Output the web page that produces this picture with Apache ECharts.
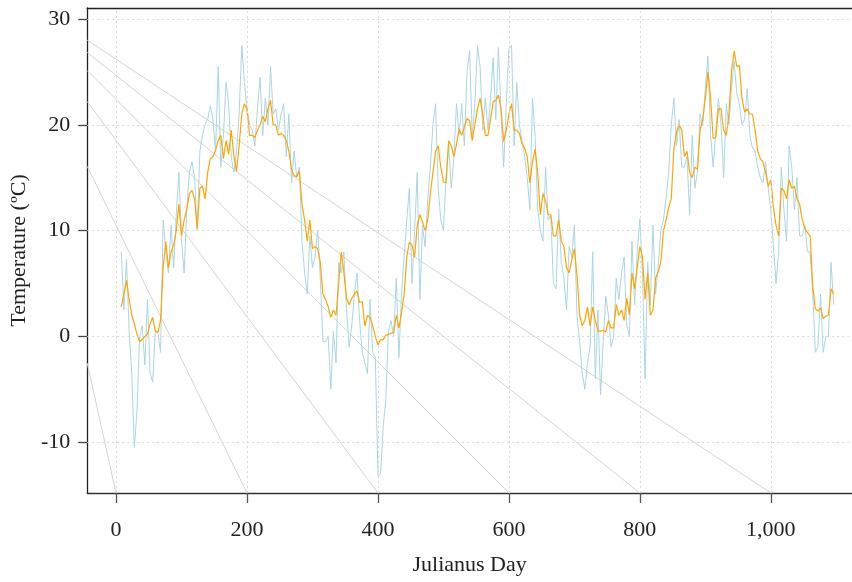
<!DOCTYPE html>
<html>
<head>
<meta charset="utf-8">
<script src="https://cdn.jsdelivr.net/npm/echarts@6/dist/echarts.min.js"></script>
<style>
  html, body { margin: 0; padding: 0; background: #fff; }
  #chart { width: 852px; height: 582px; }
</style>
</head>
<body>
<div id="chart"></div>
<script>
// daily temperature, read every 4 days starting at day 8
var firstDay = 8;
var dayStep = 4;

var dailyTemp = [
  8.0, 2.5, 7.3, 0.5, -3.5, -10.5, -7, 0, 1.0, -2.7, 3.5, -3.5, -4.3, 0.5, 0.3, -1.5,
  11, 8, 6, 10.5, 6.5, 11.5, 15.5, 9, 6, 12, 15.5, 16.5, 15, 10, 17.5, 19,
  20.0, 20.5, 21.8, 20.5, 17.5, 25.5, 16, 19, 24, 22, 17, 15.5, 17.5, 21, 27.5, 24, 21.5,
  20, 19.5, 18, 21.5, 24.5, 19, 22.5, 20, 25.5, 21, 21.5, 19.5, 21, 22, 17, 21, 14.5,
  17.5, 15, 16, 9, 6, 4, 9.5, 6.5, 7.5, 10, 5.5, -0.5, -0.5, 0, -5, 0.5, -2.5,
  7, 6, 8, 2.5, -1, 1, 4, 6, 1.5, -1.5, -2.5, -3.5, 3.5, -1.5, -2, -13.2, -13,
  -8.5, -6, 0.5, 1.5, 0, 5.5, -2, 4, 7.5, 11, 14, 5, 10, 15.5, 3.5, 10.5, 8.5,
  13, 16, 20, 22, 14, 11, 10, 15, 18, 14, 17, 22, 19, 22, 18, 25, 27,
  19, 22, 27.5, 25.5, 19.5, 22.5, 19.5, 22.5, 26.3, 20.5, 27.3, 21, 16, 22, 27.2, 27.5, 18, 24,
  20, 18.5, 17, 15, 12, 22.5, 19, 12, 10, 9, 16, 11, 11.5, 5, 4.5, 12, 7,
  5.5, 2.5, 8.5, 7.5, 10.5, 2, -0.5, -3.5, -5, -2.5, -1, 8, -4, 2.5, -5.5, -0.5, 3.8,
  2, -1, 0, 5.5, 3.5, 6, 7.5, 1, 0, 9, 3, 8, 11.1, 6, -4, 7, 3,
  10.5, 4, 6.5, 10, 11, 13, 15.5, 20, 22.5, 18, 20.5, 16, 16, 17, 11.5, 19, 14,
  15.5, 21, 20, 23.5, 26.5, 19, 16, 19.5, 22.5, 20, 15, 22, 20, 23.5, 26, 23, 22,
  20, 20.5, 23.4, 19, 17.8, 17.5, 16, 15, 14.5, 16.5, 14, 12, 8.5, 5, 8, 16, 12, 9,
  18, 16, 12, 15, 9.5, 9.5, 10.5, 8, 8, 4.2, -1.5, -1, 4, -1.5, 0, 0, 7, 3
];

var smoothTemp = [
  2.8, 4.0, 5.3, 3.5, 2.0, 1.2, 0.2, -0.5, -0.3, 0.0, 0.2, 1.2, 1.8, 0.5, 0.4, 1.5,
  6.5, 9.0, 6.5, 8.0, 8.6, 10.0, 12.5, 9.5, 11.0, 12.0, 13.5, 13.8, 13.0, 10.2, 14.0, 14.2,
  13.0, 15.5, 16.8, 17.0, 17.6, 18.5, 19.0, 16.8, 18.5, 17.2, 19.5, 17.0, 15.6, 18.0, 21.0, 22.0, 21.5,
  19.0, 19.0, 18.8, 19.5, 20.0, 20.8, 20.3, 21.5, 22.3, 20.0, 20.0, 19.0, 19.2, 19.0, 18.5, 17.5, 15.8,
  15.2, 15.1, 15.6, 12.5, 11.0, 9.0, 11.0, 8.3, 8.5, 8.3, 7.0, 4.0, 3.5, 2.8, 1.8, 2.5, 2.0,
  5.0, 8.0, 6.0, 3.6, 3.0, 3.6, 4.0, 4.3, 3.2, 3.3, 1.0, 2.0, 1.8, 1.0, 0.0, -0.8, -0.3,
  -0.3, 0.1, 0.2, 0.3, 0.4, 2.0, 0.8, 2.2, 4.0, 7.5, 8.9, 8.6, 7.5, 10.5, 11.5, 10.8, 10.0,
  11.0, 13.5, 15.5, 17.5, 18.0, 16.0, 14.6, 14.5, 18.5, 18.0, 17.0, 18.2, 19.6, 19.0, 19.8, 20.6, 20.4,
  18.5, 20.0, 21.5, 22.5, 21.0, 19.0, 19.0, 20.5, 22.2, 22.3, 22.8, 21.5, 18.4, 19.5, 21.0, 22.0, 19.5, 19.5,
  19.2, 18.2, 17.8, 17.0, 14.5, 16.5, 17.7, 15.5, 11.5, 13.5, 12.8, 11.5, 11.5, 9.5, 9.5, 11.0, 9.0,
  8.5, 6.5, 6.0, 7.2, 8.3, 5.8, 2.0, 1.0, 1.5, 2.8, 1.0, 2.8, 1.5, 0.5, 0.5, 0.6, 0.4,
  1.5, 0.8, 0.8, 3.0, 2.0, 2.5, 1.5, 3.6, 2.0, 6.0, 4.5, 6.5, 8.5, 7.5, 3.5, 6.0, 2.0,
  2.5, 5.5, 6.1, 7.0, 10.0, 11.0, 12.2, 13.0, 17.8, 19.3, 20.0, 19.5, 17.0, 17.5, 15.5, 15.0, 16.0,
  15.8, 19.5, 20.5, 22.5, 25.0, 22.5, 18.7, 18.8, 21.5, 21.5, 19.5, 19.0, 21.0, 25.0, 27.0, 25.5, 25.6,
  22.5, 21.2, 21.5, 21.0, 21.0, 19.5, 17.5, 16.8, 16.5, 15.5, 14.2, 14.8, 12.2, 10.5, 9.5, 14.0, 13.8, 13.0,
  14.8, 14.0, 14.2, 13.0, 12.5, 11.0, 10.2, 9.8, 9.5, 4.8, 2.6, 2.4, 2.7, 1.7, 1.9, 2.0, 4.5, 4.0
];

var xTicks = [0, 200, 400, 600, 800, 1000];
var yTicks = [-10, 0, 10, 20, 30];

// grey guide lines: value at the left edge, day where they hit the bottom
var guideLeftY = [-2.53, 16.07, 22.2, 25.12, 26.84, 28.0];
var guideEndDay = [0, 200, 400, 600, 800, 1000];

var xMin = -44, xMax = 1124;
var yMin = -14.8, yMax = 31.04;

var font = "'Liberation Serif', 'Times New Roman', serif";

function pairs(values) {
  var out = [];
  for (var i = 0; i < values.length; i++) {
    out.push([firstDay + i * dayStep, values[i]]);
  }
  return out;
}

var myChart = echarts.init(document.getElementById('chart'));

var series = [];

// dotted grid
series.push({
  type: 'line',
  data: [],
  silent: true,
  markLine: {
    silent: true,
    symbol: 'none',
    label: { show: false },
    lineStyle: { color: '#d9d9d9', type: [2, 3], width: 1 },
    data: xTicks.map(function (v) { return { xAxis: v }; })
      .concat(yTicks.map(function (v) { return { yAxis: v }; }))
  }
});

guideLeftY.forEach(function (y, i) {
  series.push({
    type: 'line',
    silent: true,
    symbol: 'none',
    lineStyle: { color: '#d3d3d3', width: 1 },
    data: [[xMin, y], [guideEndDay[i], yMin]],
    z: 1
  });
});

series.push({
  name: 'daily',
  type: 'line',
  symbol: 'none',
  lineStyle: { color: '#a9d6e5', width: 1 },
  data: pairs(dailyTemp),
  z: 2
});

series.push({
  name: 'smooth',
  type: 'line',
  symbol: 'none',
  lineStyle: { color: '#ffa500', width: 1.2 },
  data: pairs(smoothTemp),
  z: 3
});

option = {
  backgroundColor: '#ffffff',
  animation: false,
  grid: { left: 84, right: 0, top: 8, bottom: 89 },
  xAxis: [{
    type: 'value',
    min: xMin,
    max: xMax,
    name: 'Julianus Day',
    nameLocation: 'middle',
    nameGap: 61,
    nameTextStyle: { fontFamily: font, fontSize: 22, color: '#222' },
    axisLine: { show: true, onZero: false, lineStyle: { color: '#333', width: 1.3 } },
    axisTick: { show: true, customValues: xTicks, length: 10, lineStyle: { color: '#555', width: 1.3 } },
    axisLabel: {
      customValues: xTicks,
      margin: 26,
      fontFamily: font,
      fontSize: 22,
      color: '#222',
      formatter: function (v) { return v >= 1000 ? echarts.format.addCommas(v) : String(v); }
    },
    splitLine: { show: false }
  }, {
    type: 'value',
    position: 'top',
    min: xMin,
    max: xMax,
    axisLine: { show: true, onZero: false, lineStyle: { color: '#222', width: 1.3 } },
    axisTick: { show: false },
    axisLabel: { show: false },
    splitLine: { show: false }
  }],
  yAxis: {
    type: 'value',
    min: yMin,
    max: yMax,
    name: 'Temperature (ºC)',
    nameLocation: 'middle',
    nameGap: 52,
    nameTextStyle: { fontFamily: font, fontSize: 22, color: '#222' },
    axisLine: { show: true, onZero: false, lineStyle: { color: '#222', width: 1.3 } },
    axisTick: { show: true, customValues: yTicks, length: 9, lineStyle: { color: '#444', width: 1.3 } },
    axisLabel: { customValues: yTicks, margin: 17, fontFamily: font, fontSize: 22, color: '#222' },
    splitLine: { show: false }
  },
  series: series
};

myChart.setOption(option);
</script>
</body>
</html>
